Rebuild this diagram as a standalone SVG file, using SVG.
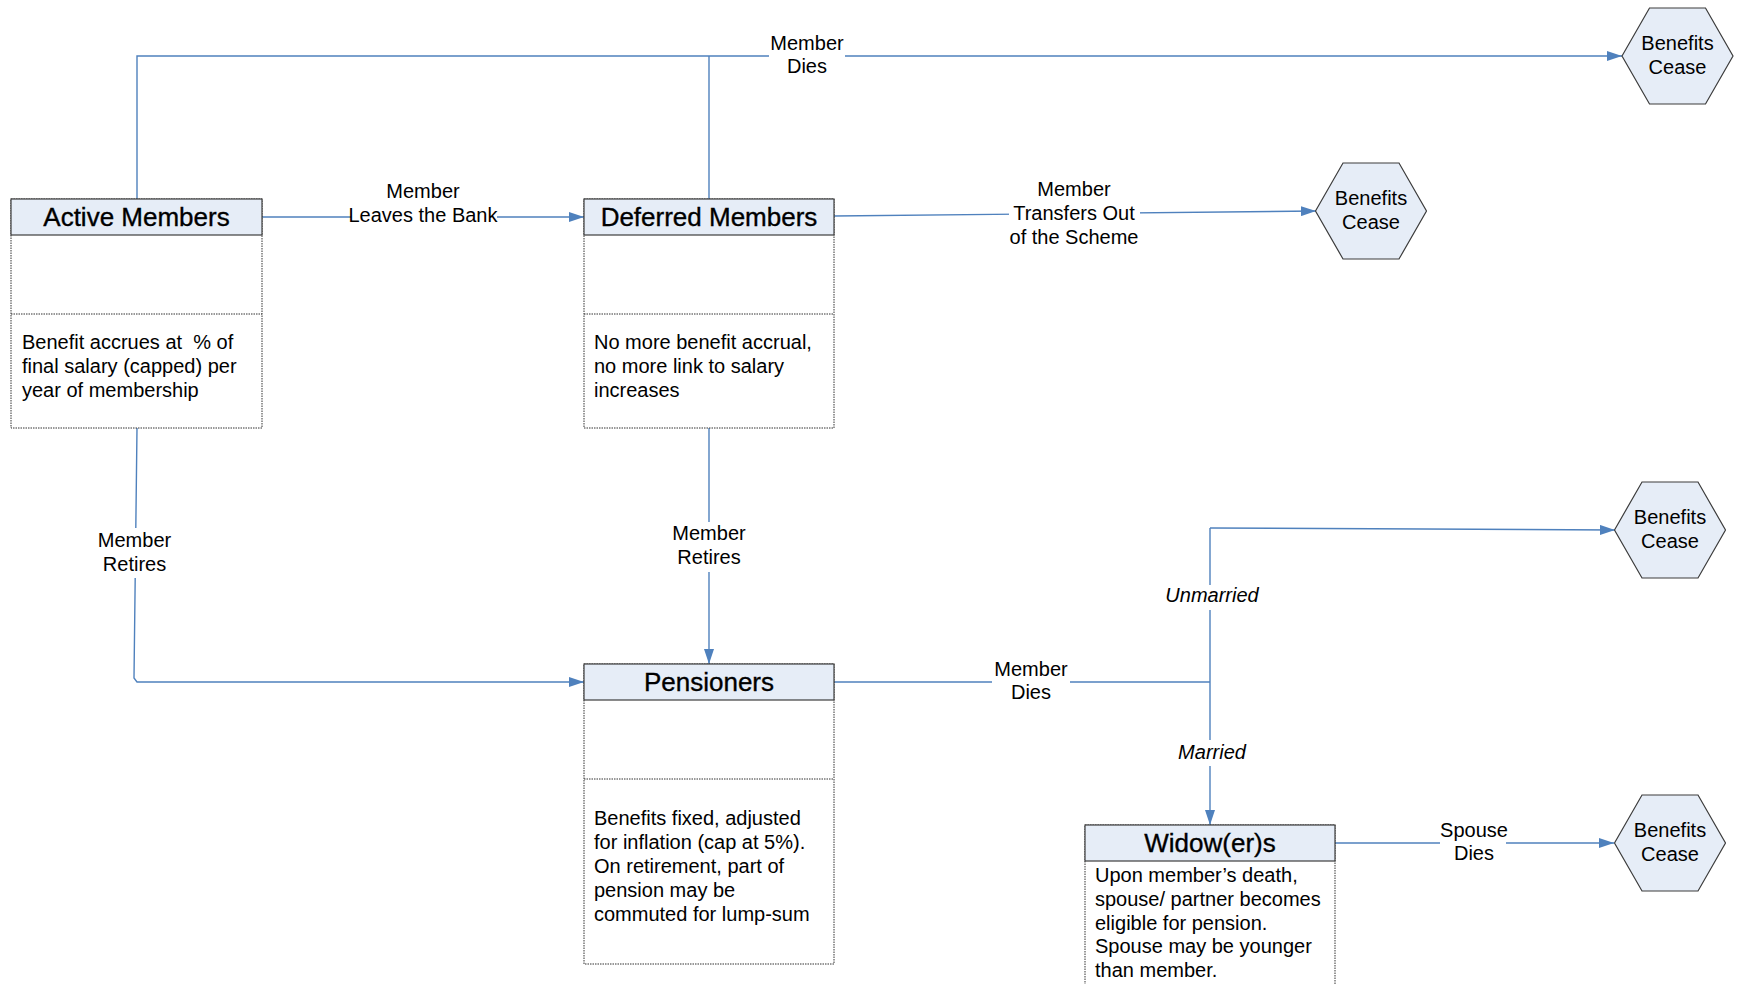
<svg xmlns="http://www.w3.org/2000/svg" width="1742" height="984" viewBox="0 0 1742 984">
<style>
.hdr{fill:#E6EDF7;stroke:#3C3C3C;stroke-width:1.2}
.body{fill:#fff;stroke:#333;stroke-width:1;stroke-dasharray:1.5 1}
.dv{stroke:#333;stroke-width:1;stroke-dasharray:1.5 1}
.title{font-family:"Liberation Sans",Arial,sans-serif;font-size:26px;text-anchor:middle;fill:#000;stroke:#000;stroke-width:0.35}
.txt{font-family:"Liberation Sans",Arial,sans-serif;font-size:20px;fill:#000}
.lbl{font-family:"Liberation Sans",Arial,sans-serif;font-size:20px;fill:#000;text-anchor:middle}
.it{font-style:italic}
.hex{fill:#E6EDF7;stroke:#3C3C3C;stroke-width:1.2}
.conn{fill:none;stroke:#4F81BD;stroke-width:1.4}
.bg{fill:#fff}
</style>
<defs>
<marker id="arr" markerUnits="userSpaceOnUse" markerWidth="15" markerHeight="10" viewBox="0 0 15 10" refX="15" refY="5" orient="auto">
<path d="M0,0 L15,5 L0,10 z" fill="#4F81BD"/>
</marker>
</defs>

<g id="connectors">
<path class="conn" d="M137,199 V56 H1622" marker-end="url(#arr)"/>
<path class="conn" d="M709,199 V56"/>
<path class="conn" d="M262,217 H584" marker-end="url(#arr)"/>
<path class="conn" d="M834,216 L1316,211" marker-end="url(#arr)"/>
<path class="conn" d="M709,428 V664" marker-end="url(#arr)"/>
<path class="conn" d="M137,428 L134,678 L137,682 H584" marker-end="url(#arr)"/>
<path class="conn" d="M834,682 H1210"/>
<path class="conn" d="M1210,528 V825" marker-end="url(#arr)"/>
<path class="conn" d="M1210,528 L1615,530" marker-end="url(#arr)"/>
<path class="conn" d="M1335,843 H1614" marker-end="url(#arr)"/>

<rect class="bg" x="769" y="34" width="76" height="44"/>
<text class="lbl" x="807" y="50">Member</text>
<text class="lbl" x="807" y="73">Dies</text>

<rect class="bg" x="351" y="207" width="146" height="20"/>
<text class="lbl" x="423" y="198">Member</text>
<text class="lbl" x="423" y="222">Leaves the Bank</text>

<rect class="bg" x="1009" y="203" width="131" height="22"/>
<text class="lbl" x="1074" y="196">Member</text>
<text class="lbl" x="1074" y="220">Transfers Out</text>
<text class="lbl" x="1074" y="244">of the Scheme</text>

<rect class="bg" x="670" y="522" width="78" height="50"/>
<text class="lbl" x="709" y="539.5">Member</text>
<text class="lbl" x="709" y="564">Retires</text>

<rect class="bg" x="96" y="528" width="78" height="50"/>
<text class="lbl" x="134.5" y="546.5">Member</text>
<text class="lbl" x="134.5" y="571">Retires</text>

<rect class="bg" x="992" y="665" width="78" height="38"/>
<text class="lbl" x="1031" y="676">Member</text>
<text class="lbl" x="1031" y="699">Dies</text>

<rect class="bg" x="1165" y="585" width="95" height="25"/>
<text class="lbl it" x="1212" y="602">Unmarried</text>
<rect class="bg" x="1175" y="740" width="75" height="26"/>
<text class="lbl it" x="1212" y="759">Married</text>

<rect class="bg" x="1440" y="822" width="66" height="44"/>
<text class="lbl" x="1474" y="837">Spouse</text>
<text class="lbl" x="1474" y="860">Dies</text>
</g>

<g id="active">
<rect class="body" x="11" y="199" width="251" height="229"/>
<line class="dv" x1="11" y1="314" x2="262" y2="314"/>
<rect class="hdr" x="11" y="199" width="251" height="36"/>
<text class="title" x="136.5" y="226">Active Members</text>
<text class="txt" x="22" y="349" xml:space="preserve">Benefit accrues at  % of</text>
<text class="txt" x="22" y="373">final salary (capped) per</text>
<text class="txt" x="22" y="397">year of membership</text>
</g>

<g id="deferred">
<rect class="body" x="584" y="199" width="250" height="229"/>
<line class="dv" x1="584" y1="314" x2="834" y2="314"/>
<rect class="hdr" x="584" y="199" width="250" height="36"/>
<text class="title" x="709" y="226">Deferred Members</text>
<text class="txt" x="594" y="349">No more benefit accrual,</text>
<text class="txt" x="594" y="373">no more link to salary</text>
<text class="txt" x="594" y="397">increases</text>
</g>

<g id="pensioners">
<rect class="body" x="584" y="664" width="250" height="300"/>
<line class="dv" x1="584" y1="779" x2="834" y2="779"/>
<rect class="hdr" x="584" y="664" width="250" height="36"/>
<text class="title" x="709" y="691">Pensioners</text>
<text class="txt" x="594" y="825">Benefits fixed, adjusted</text>
<text class="txt" x="594" y="849">for inflation (cap at 5%).</text>
<text class="txt" x="594" y="873">On retirement, part of</text>
<text class="txt" x="594" y="897">pension may be</text>
<text class="txt" x="594" y="921">commuted for lump-sum</text>
</g>

<g id="widowers">
<rect class="body" x="1085" y="825" width="250" height="200"/>
<rect class="hdr" x="1085" y="825" width="250" height="36"/>
<text class="title" x="1210" y="852">Widow(er)s</text>
<text class="txt" x="1095" y="882">Upon member’s death,</text>
<text class="txt" x="1095" y="906">spouse/ partner becomes</text>
<text class="txt" x="1095" y="929.5">eligible for pension.</text>
<text class="txt" x="1095" y="953">Spouse may be younger</text>
<text class="txt" x="1095" y="976.5">than member.</text>
</g>

<g id="cease1">
<polygon class="hex" points="1622,56 1649.5,8 1705.5,8 1733,56 1705.5,104 1649.5,104"/>
<text class="lbl" x="1677.5" y="50">Benefits</text>
<text class="lbl" x="1677.5" y="74">Cease</text>
</g>
<g id="cease2">
<polygon class="hex" points="1315.5,211 1343,163 1399,163 1426.5,211 1399,259 1343,259"/>
<text class="lbl" x="1371" y="205">Benefits</text>
<text class="lbl" x="1371" y="229">Cease</text>
</g>
<g id="cease3">
<polygon class="hex" points="1614.5,530 1642,482 1698,482 1725.5,530 1698,578 1642,578"/>
<text class="lbl" x="1670" y="524">Benefits</text>
<text class="lbl" x="1670" y="548">Cease</text>
</g>
<g id="cease4">
<polygon class="hex" points="1614.5,843 1642,795 1698,795 1725.5,843 1698,891 1642,891"/>
<text class="lbl" x="1670" y="837">Benefits</text>
<text class="lbl" x="1670" y="861">Cease</text>
</g>
</svg>
